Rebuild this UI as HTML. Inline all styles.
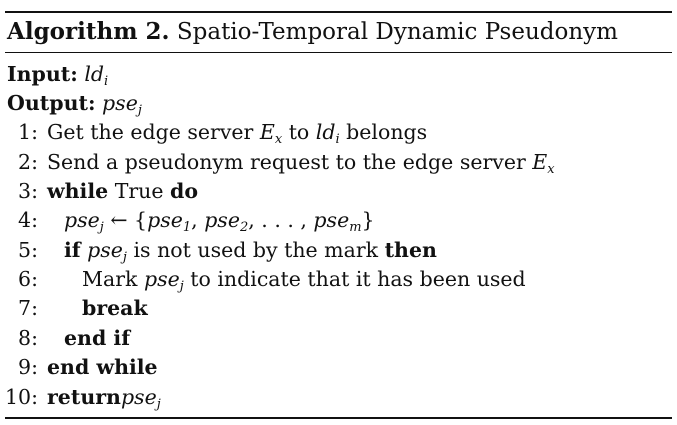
<!DOCTYPE html>
<html><head><meta charset="utf-8">
<style>
html,body{margin:0;padding:0;background:#fff;}
body{width:677px;height:425px;position:relative;overflow:hidden;font-family:"DejaVu Serif","Liberation Serif",serif;color:#111;}
.rule{position:absolute;left:5px;width:667px;background:#111;}
.ln{position:absolute;font-size:20.5px;line-height:20px;white-space:nowrap;}
.num{position:absolute;left:0;width:38px;text-align:right;}
.txt{position:absolute;}
i{font-style:italic;}
b{font-weight:bold;}
sub{font-size:13px;vertical-align:-4px;line-height:0;font-style:italic;}
</style></head><body>
<div class="rule" style="top:11px;height:2px;"></div>
<div class="ln" style="left:7px;top:20px;font-size:23px;line-height:24px;"><b>Algorithm 2.</b> Spatio-Temporal Dynamic Pseudonym</div>
<div class="rule" style="top:52px;height:1px;"></div>

<div class="ln" style="left:7px;top:64px;"><b>Input:</b> <i>ld</i><sub>i</sub></div>
<div class="ln" style="left:7px;top:93px;"><b>Output:</b> <i>pse</i><sub>j</sub></div>

<div class="ln" style="left:0;top:122px;width:677px;"><span class="num">1:</span><span class="txt" style="left:47px;">Get the edge server <i>E</i><sub>x</sub> to <i>ld</i><sub>i</sub> belongs</span></div>
<div class="ln" style="left:0;top:152px;width:677px;"><span class="num">2:</span><span class="txt" style="left:47px;">Send a pseudonym request to the edge server <i>E</i><sub>x</sub></span></div>
<div class="ln" style="left:0;top:181px;width:677px;"><span class="num">3:</span><span class="txt" style="left:47px;"><b>while</b> True <b>do</b></span></div>
<div class="ln" style="left:0;top:210px;width:677px;"><span class="num">4:</span><span class="txt" style="left:64px;"><i>pse</i><sub>j</sub> ← {<i>pse</i><sub>1</sub>, <i>pse</i><sub>2</sub>, . . . , <i>pse</i><sub>m</sub>}</span></div>
<div class="ln" style="left:0;top:240px;width:677px;"><span class="num">5:</span><span class="txt" style="left:64px;"><b>if</b> <i>pse</i><sub>j</sub> is not used by the mark <b>then</b></span></div>
<div class="ln" style="left:0;top:269px;width:677px;"><span class="num">6:</span><span class="txt" style="left:82px;">Mark <i>pse</i><sub>j</sub> to indicate that it has been used</span></div>
<div class="ln" style="left:0;top:298px;width:677px;"><span class="num">7:</span><span class="txt" style="left:82px;"><b>break</b></span></div>
<div class="ln" style="left:0;top:328px;width:677px;"><span class="num">8:</span><span class="txt" style="left:64px;"><b>end if</b></span></div>
<div class="ln" style="left:0;top:357px;width:677px;"><span class="num">9:</span><span class="txt" style="left:47px;"><b>end while</b></span></div>
<div class="ln" style="left:0;top:387px;width:677px;"><span class="num">10:</span><span class="txt" style="left:47px;"><b>return</b><i>pse</i><sub>j</sub></span></div>

<div class="rule" style="top:417px;height:2px;"></div>
</body></html>
